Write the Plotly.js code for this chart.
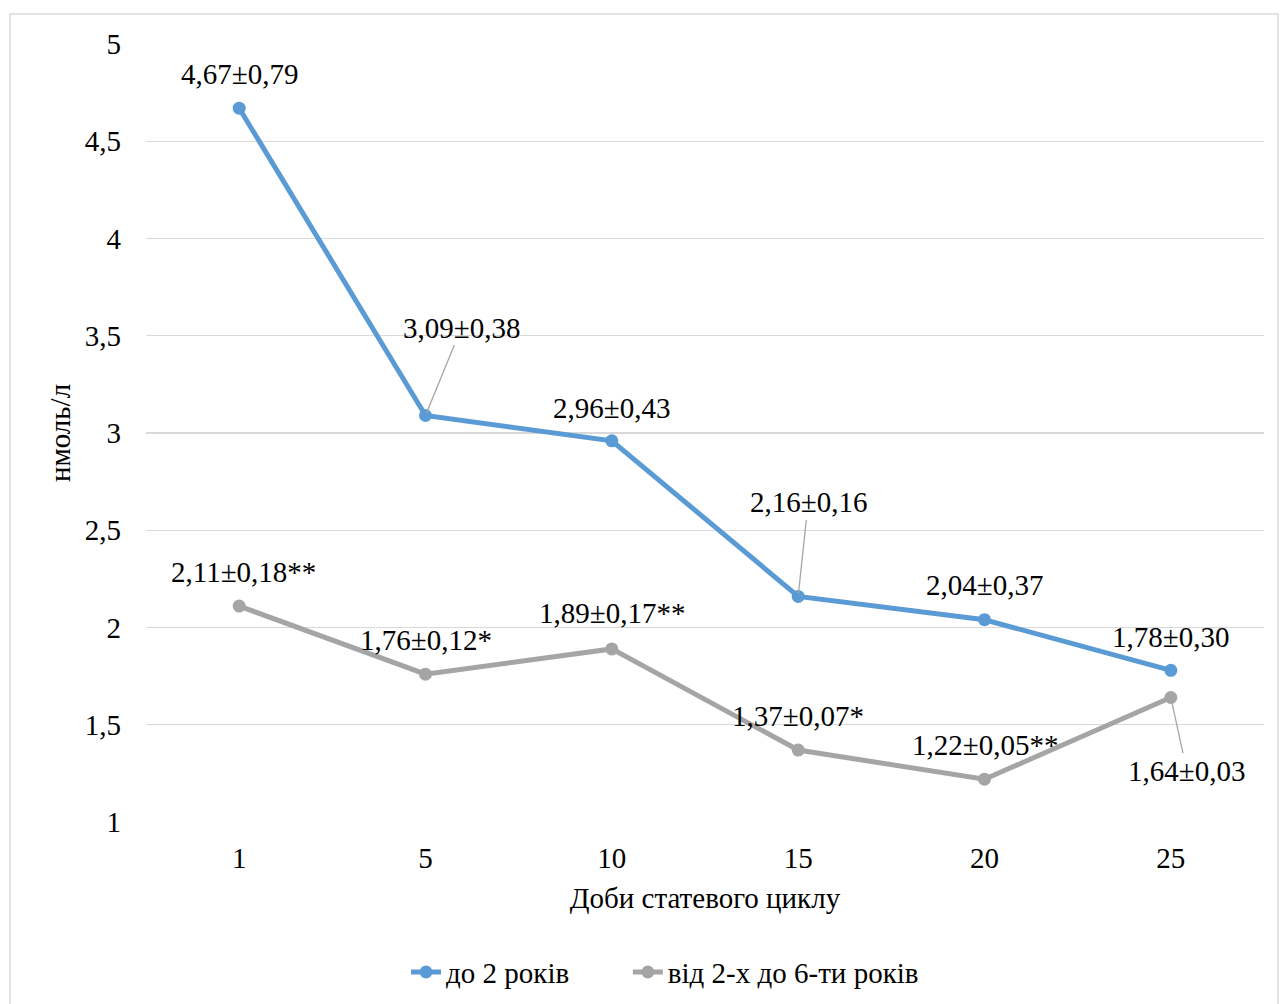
<!DOCTYPE html>
<html>
<head>
<meta charset="utf-8">
<script src="https://cdn.plot.ly/plotly-3.0.1.min.js"></script>
<style>
  html, body { margin: 0; padding: 0; background: #fff; }
  #chart { width: 1282px; height: 1004px; }
</style>
</head>
<body>
<div id="chart"></div>
<script>
const days = ['1', '5', '10', '15', '20', '25'];
const seriesA = [4.67, 3.09, 2.96, 2.16, 2.04, 1.78];
const seriesB = [2.11, 1.76, 1.89, 1.37, 1.22, 1.64];
const labelsA = ['4,67±0,79', '3,09±0,38', '2,96±0,43', '2,16±0,16', '2,04±0,37', '1,78±0,30'];
const labelsB = ['2,11±0,18**', '1,76±0,12*', '1,89±0,17**', '1,37±0,07*', '1,22±0,05**', '1,64±0,03'];
const nameA = 'до 2 років';
const nameB = 'від 2-х до 6-ти років';
const yTicks = [1, 1.5, 2, 2.5, 3, 3.5, 4, 4.5, 5];
const yTickText = ['1', '1,5', '2', '2,5', '3', '3,5', '4', '4,5', '5'];

const FONT = "'Liberation Serif', 'Times New Roman', serif";
const FS = 29;
const blue = '#5b9bd5';
const gray = '#a5a5a5';

const traces = [
  { x: days, y: seriesA, name: nameA, type: 'scatter', mode: 'lines+markers', legend: 'legend',
    line: { color: blue, width: 5 }, marker: { color: blue, size: 13 } },
  { x: days, y: seriesB, name: nameB, type: 'scatter', mode: 'lines+markers', legend: 'legend2',
    line: { color: gray, width: 5 }, marker: { color: gray, size: 13 } }
];

// label placement offsets (pixels): [dx, dy, leader]
const offA = [[0, -34, false], [36, -88, true], [0, -33, false], [10, -94, true], [0, -35, false], [0, -33, false]];
const offB = [[4, -34, false], [0, -34, false], [0, -36, false], [0, -34, false], [0, -34, false], [16, 73, true]];

const annotations = [];
function addLabels(vals, labels, offs) {
  vals.forEach((v, i) => {
    const o = offs[i];
    if (o[2]) {
      annotations.push({ x: i, y: v, xref: 'x', yref: 'y', text: labels[i],
        showarrow: true, arrowhead: 0, arrowwidth: 1.3, arrowcolor: '#a6a6a6',
        ax: o[0], ay: o[1], standoff: 3,
        font: { family: FONT, size: FS, color: '#000' } });
    } else {
      annotations.push({ x: i, y: v, xref: 'x', yref: 'y', text: labels[i],
        showarrow: false, xshift: o[0], yshift: -o[1],
        font: { family: FONT, size: FS, color: '#000' } });
    }
  });
}
addLabels(seriesA, labelsA, offA);
addLabels(seriesB, labelsB, offB);

const legendFont = { family: FONT, size: FS, color: '#000' };

const layout = {
  width: 1282, height: 1004,
  margin: { l: 146, r: 18, t: 44, b: 182, autoexpand: false },
  paper_bgcolor: '#fff', plot_bgcolor: '#fff',
  font: { family: FONT, size: FS, color: '#000' },
  showlegend: true,
  legend: { orientation: 'h', x: 0.2326, xanchor: 'left', y: -0.193, yanchor: 'middle', font: legendFont },
  legend2: { orientation: 'h', x: 0.431, xanchor: 'left', y: -0.193, yanchor: 'middle', font: legendFont },
  xaxis: { type: 'category', range: [-0.5, 5.5], showgrid: false, showline: false, zeroline: false,
    automargin: false,
    ticks: '', ticklen: 0, tickfont: { family: FONT, size: FS }, ticklabelstandoff: 16,
    title: { text: 'Доби статевого циклу', font: { family: FONT, size: FS }, standoff: 14 } },
  yaxis: { range: [1, 5], tickvals: yTicks, ticktext: yTickText, showgrid: true, automargin: false,
    gridcolor: '#d9d9d9', gridwidth: 1.3, zeroline: false, showline: false, ticks: '',
    tickfont: { family: FONT, size: FS }, ticklabelstandoff: 24,
    title: { text: 'нмоль/л', font: { family: FONT, size: FS }, standoff: 5 } },
  annotations: annotations,
  shapes: [{ type: 'rect', xref: 'paper', yref: 'paper', x0: -0.1216, x1: 1.0125, y0: -0.26, y1: 1.0386,
    line: { color: '#d9d9d9', width: 1.5 }, fillcolor: 'rgba(0,0,0,0)', layer: 'below' }]
};

Plotly.newPlot('chart', traces, layout, { displayModeBar: false, staticPlot: true });
</script>
</body>
</html>
